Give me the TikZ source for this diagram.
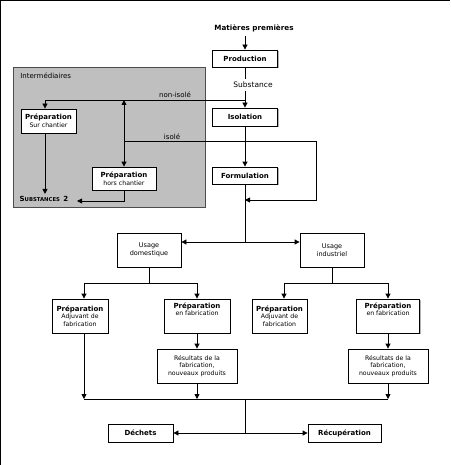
\documentclass[tikz,border=0pt]{standalone}
\usepackage{fontspec}
\setmainfont{DejaVu Sans}
\usetikzlibrary{arrows.meta,shadows}
\newcommand{\bt}[1]{{\fontsize{7}{8}\selectfont\bfseries #1}}
\tikzset{
  arr/.style={-{Triangle[length=5pt,width=5pt]}},
  darr/.style={{Triangle[length=5pt,width=5pt]}-{Triangle[length=5pt,width=5pt]}},
  box/.style={draw=black, fill=white, line width=0.8pt, inner sep=0pt, align=center,
    drop shadow={shadow xshift=1pt, shadow yshift=-1pt, fill=gray, opacity=0.6},
    font=\fontsize{6.2}{7.6}\selectfont},
  lbl/.style={inner sep=2pt, font=\fontsize{7}{8}\selectfont}
}
\begin{document}
\begin{tikzpicture}[x=1pt,y=-1pt, line width=0.8pt]
\useasboundingbox (0,0) rectangle (450,465);
\draw[line width=1.2pt] (0.6,465) -- (0.6,0.6) -- (450,0.6);
% grey area
\draw[fill=gray!50, draw=black!70, line width=0.7pt] (13,67) rectangle (205,207);
\node[lbl, anchor=west] (inter) at (18,76) {Intermédiaires};
% main chain
\node[inner sep=2pt, font=\fontsize{7.2}{8}\selectfont\bfseries] (mp) at (254,28) {Matières premières};
\node[box, minimum width=65pt, minimum height=17pt] (prod) at (245,58.5) {\bt{Production}};
\node[lbl, inner sep=3pt, font=\fontsize{7.5}{8.5}\selectfont] (subst) at (253,85) {Substance};
\node[box, minimum width=65pt, minimum height=18pt] (iso) at (245,117) {\bt{Isolation}};
\node[box, minimum width=65pt, minimum height=17pt] (form) at (245,175.5) {\bt{Formulation}};
% intermediates
\node[box, minimum width=55pt, minimum height=24pt] (psc) at (48.5,121) {\bt{Préparation}\\Sur chantier};
\node[box, minimum width=64pt, minimum height=23pt] (phc) at (124,178.5) {\bt{Préparation}\\hors chantier};
\node[inner sep=2pt, font=\bfseries] (sub2) at (44,199) {{\fontsize{7}{8}\selectfont S}{\fontsize{5.3}{8}\selectfont UBSTANCES} {\fontsize{7}{8}\selectfont 2}};
\node[lbl, anchor=south] (ni) at (175,100.5) {non-isolé};
\node[lbl, anchor=south] (il) at (172,141.5) {isolé};
% usage
\node[box, minimum width=64pt, minimum height=34pt, font=\fontsize{6.5}{8}\selectfont] (ud) at (149,250) {Usage\\domestique};
\node[box, minimum width=64pt, minimum height=34pt, font=\fontsize{6.5}{8}\selectfont] (ui) at (332,250) {Usage\\industriel};
% preparations
\node[box, minimum width=56pt, minimum height=34pt] (pa1) at (80,316) {\bt{Préparation}\\Adjuvant de\\fabrication};
\node[box, minimum width=66pt, minimum height=34pt] (pf1) at (197,316) {\bt{Préparation}\\en fabrication\\[6pt]};
\node[box, minimum width=80pt, minimum height=34pt] (r1) at (197,366) {Résultats de la\\fabrication,\\nouveaux produits};
\node[box, minimum width=55pt, minimum height=34pt] (pa2) at (279.5,316) {\bt{Préparation}\\Adjuvant de\\fabrication};
\node[box, minimum width=63pt, minimum height=34pt] (pf2) at (388,316) {\bt{Préparation}\\en fabrication\\[6pt]};
\node[box, minimum width=80pt, minimum height=34pt] (r2) at (388,366) {Résultats de la\\fabrication,\\nouveaux produits};
\node[box, minimum width=65pt, minimum height=18pt] (dech) at (140.5,433) {\bt{Déchets}};
\node[box, minimum width=73pt, minimum height=18pt] (recup) at (344.5,433) {\bt{Récupération}};
% coordinates
\coordinate (j1) at (245,100);
\coordinate (nl) at (45,100);
\coordinate (up) at (124,100);
\coordinate (is1) at (124,141);
\coordinate (is2) at (316,141);
\coordinate (is3) at (316,200);
\coordinate (is4) at (245,200);
\coordinate (s2e) at (77,201);
\coordinate (fj) at (245,242);
\coordinate (dj) at (149,283);
\coordinate (ij) at (332,283);
\coordinate (b1) at (84,399);
\coordinate (b3) at (388,399);
\coordinate (bj) at (245,399);
\coordinate (dj2) at (245,433);
% connectors
\draw[arr] (mp.south -| prod.north) ++(0,2) -- (prod.north);
\draw (prod.south) -- (prod.south |- subst.north);
\draw[arr] (prod.south |- subst.south) -- (iso.north);
\draw[arr] (j1) -- (nl) -- (nl |- psc.north);
\draw[darr] (up) -- (phc.north);
\draw[arr] (is1) -- (is2) -- (is3) -- (is4);
\draw[arr] (iso.south) -- (form.north);
\draw (form.south) -- (fj);
\draw[arr] (nl |- psc.south) -- (nl |- sub2.north);
\draw[arr] (phc.south) |- (s2e);
\draw[arr] (fj) -- (fj -| ui.west);
\draw[arr] (fj) -- (fj -| ud.east);
\draw (ud.south) -- (dj);
\draw[arr] (dj) -| ([xshift=4pt]pa1.north);
\draw[arr] (dj) -| (pf1.north);
\draw (ui.south) -- (ij);
\draw[arr] (ij) -| ([xshift=4.5pt]pa2.north);
\draw[arr] (ij) -| (pf2.north);
\draw[arr] (pf1.south) -- (r1.north);
\draw[arr] (pf2.south) -- (r2.north);
\draw[arr] ([xshift=4pt]pa1.south) -- (b1);
\draw[arr] (r1.south) -- (r1.south |- b1);
\draw[arr] (r2.south) -- (b3);
\draw (b1) -- (b3);
\draw (bj) -- (dj2);
\draw[arr] (dj2) -- (dech.east);
\draw[arr] (dj2) -- (recup.west);
\end{tikzpicture}
\end{document}
